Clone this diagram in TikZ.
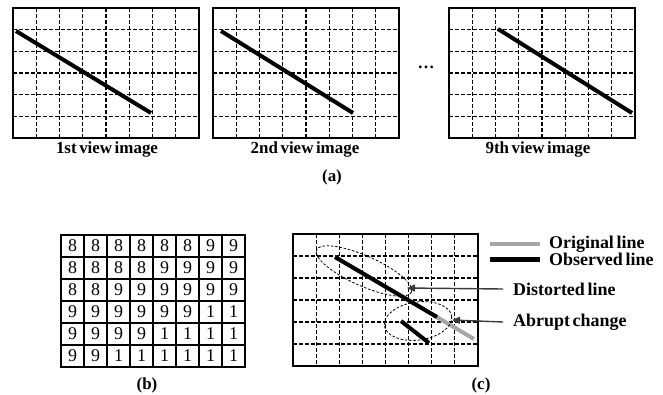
\documentclass[tikz,border=0pt]{standalone}
\usepackage{fontspec}
\setmainfont{Liberation Serif}
\newfontfamily\tightfont[WordSpace=0.6]{Liberation Serif}
\usetikzlibrary{arrows.meta}
\definecolor{linegray}{HTML}{A6A6A6}
\definecolor{arrowgray}{HTML}{3A3A3A}
\newcommand\gridpanel[4]{%
  \foreach \i in {1,...,7}{\draw[gridline] ({#1+\i*(#3-#1)/8},#2) -- ({#1+\i*(#3-#1)/8},#4);}
  \foreach \j in {1,...,5}{\draw[gridline] (#1,{#2+\j*(#4-#2)/6}) -- (#3,{#2+\j*(#4-#2)/6});}
  \draw[frame] (#1,#2) rectangle (#3,#4);
}
\begin{document}
\begin{tikzpicture}[x=1bp,y=-1bp,
  frame/.style={line width=2.8bp},
  gridline/.style={dash pattern=on 3.5bp off 2.5bp, line width=1.1bp},
  obsline/.style={line width=4bp},
  origline/.style={line width=4bp, draw=linegray},
  cellline/.style={line width=1.2bp},
  lbl/.style={font=\tightfont\fontsize{17}{20}\selectfont\bfseries, inner sep=0},
  leg/.style={font=\tightfont\fontsize{18}{21}\selectfont\bfseries, inner sep=0, anchor=west},
  digit/.style={font=\fontsize{18}{21}\selectfont, inner sep=0},
  halo/.style={dash pattern=on 2.5bp off 1.8bp, line width=0.8bp},
  pointer/.style={draw=arrowgray, line width=1.4bp, -{Triangle[length=8bp,width=7bp]}}
]
\useasboundingbox (0,0) rectangle (663,394);

% ---- (a) ----
\gridpanel{13}{8}{199}{138}
\gridpanel{213}{8}{399}{138}
\gridpanel{449}{8}{635}{138}
\coordinate (a1s) at (16,31);  \coordinate (a1e) at (151,113);
\coordinate (a2s) at (221,31); \coordinate (a2e) at (353,113);
\coordinate (a3s) at (498,29); \coordinate (a3e) at (632,113);
\draw[obsline] (a1s) -- (a1e);
\draw[obsline] (a2s) -- (a2e);
\draw[obsline] (a3s) -- (a3e);
\node[lbl] (l1) at (107,149) {1st view image};
\node[lbl] (l2) at (305,149) {2nd view image};
\node[lbl] (l3) at (538,149) {9th view image};
\node[lbl] (dots) at (426,67) {\ldots};
\node[lbl] (capa) at (332,177) {(a)};

% ---- (b) ----
\foreach \row [count=\j] in {{8,8,8,8,8,8,9,9},{8,8,8,8,9,9,9,9},{8,8,9,9,9,9,9,9},{9,9,9,9,9,9,1,1},{9,9,9,9,1,1,1,1},{9,9,1,1,1,1,1,1}}{
  \foreach \v [count=\i] in \row {
    \node[digit] (t\j-\i) at ({61+23*(\i-0.5)},{235+22*(\j-0.5)}) {\v};
  }
}
\foreach \i in {1,...,7}{\draw[cellline] ({61+23*\i},235) -- ({61+23*\i},367);}
\foreach \j in {1,...,5}{\draw[cellline] (61,{235+22*\j}) -- (245,{235+22*\j});}
\draw[frame] (61,235) rectangle (245,367);
\node[lbl] (capb) at (147,385) {(b)};

% ---- (c) ----
\gridpanel{293}{234}{478}{366}
\coordinate (os) at (335,257);
\coordinate (oe) at (474,339);
\coordinate (ee) at (437,317);
\coordinate (js) at (401,321);
\coordinate (je) at (429,343);
\draw[origline] (os) -- (oe);
\draw[obsline] (os) -- (ee);
\draw[obsline] (js) -- (je);
\draw[halo, rotate around={-24:(364,271)}] (364,271) ellipse [x radius=52, y radius=15];
\draw[halo, rotate around={8:(418,321)}] (418,321) ellipse [x radius=34, y radius=19];
\coordinate (dtip) at (407,288);
\coordinate (atip) at (452,320);

\node[leg] (orig) at (549,244) {Original line};
\node[leg] (obs) at (549,259) {Observed line};
\node[leg] (dist) at (513,289) {Distorted line};
\node[leg] (abr) at (513,322) {Abrupt change};
\draw[origline] ([xshift=-59bp]orig.west) -- ([xshift=-9bp]orig.west);
\draw[line width=5bp] ([xshift=-59bp]obs.west) -- ([xshift=-9bp]obs.west);
\draw[pointer] ([xshift=-10bp]dist.west) -- (dtip);
\draw[pointer] ([xshift=-10bp]abr.west) -- (atip);
\node[lbl] (capc) at (481,385) {(c)};
\end{tikzpicture}
\end{document}
